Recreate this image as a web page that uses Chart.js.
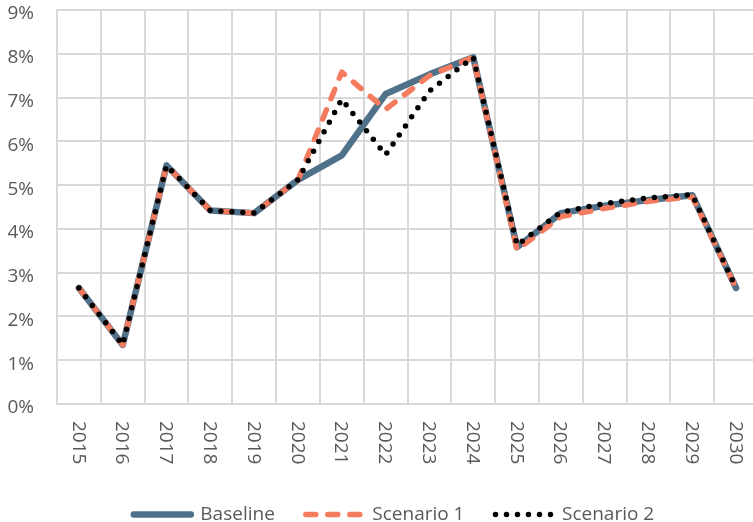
<!DOCTYPE html>
<html>
<head>
<meta charset="utf-8">
<script src="https://cdn.jsdelivr.net/npm/chart.js@4.4.1/dist/chart.umd.min.js"></script>
<style>
  html, body { margin: 0; padding: 0; background: #ffffff; overflow: hidden; width: 753px; height: 522px; }
  #wrap { position: absolute; left: 0; top: 0; width: 800px; height: 534px; }
</style>
</head>
<body>
<div id="wrap"><canvas id="c" width="800" height="534"></canvas></div>
<script>
const years = ['2015','2016','2017','2018','2019','2020','2021','2022','2023','2024','2025','2026','2027','2028','2029','2030'];
const baseline  = [2.65, 1.35, 5.45, 4.42, 4.36, 5.12, 5.68, 7.08, 7.53, 7.92, 3.58, 4.36, 4.53, 4.66, 4.77, 2.65];
const scenario1 = [2.65, 1.35, 5.45, 4.42, 4.36, 5.12, 7.58, 6.73, 7.50, 7.92, 3.52, 4.28, 4.47, 4.63, 4.73, 2.65];
const scenario2 = [2.65, 1.35, 5.45, 4.42, 4.36, 5.12, 6.96, 5.69, 7.15, 7.92, 3.63, 4.38, 4.58, 4.71, 4.78, 2.65];
const yTicks = [0, 1, 2, 3, 4, 5, 6, 7, 8, 9];

const FONT = '"Open Sans", "Noto Sans", sans-serif';
const TEXT = '#595959';
const GRID = '#d9d9d9';

const xLabelPlugin = {
  id: 'xLabelsDown',
  afterDraw(chart) {
    const sc = chart.scales.x;
    const ctx = chart.ctx;
    ctx.save();
    ctx.fillStyle = TEXT;
    ctx.font = '19px ' + FONT;
    ctx.textAlign = 'left';
    ctx.textBaseline = 'middle';
    sc.ticks.forEach((t, i) => {
      const x = sc.getPixelForTick(i);
      const y = sc.top + 17;
      ctx.save();
      ctx.translate(x - 1, y);
      ctx.rotate(Math.PI / 2);
      ctx.fillText(years[i], 0, 0);
      ctx.restore();
    });
    ctx.restore();
  }
};

const legendShift = {
  id: 'legendShift',
  afterLayout(chart) {
    const lg = chart.legend;
    if (lg) { lg.left += 12; lg.right += 12; }
  }
};

new Chart(document.getElementById('c'), {
  type: 'line',
  data: {
    labels: years,
    datasets: [
      { label: 'Baseline', data: baseline, borderColor: '#50718a', backgroundColor: '#50718a',
        borderWidth: 6.5, borderCapStyle: 'round', borderJoinStyle: 'round', pointRadius: 0, tension: 0, order: 3 },
      { label: 'Scenario 1', data: scenario1, borderColor: '#f47b5e', backgroundColor: '#f47b5e',
        borderWidth: 5.5, borderDash: [10, 12], borderCapStyle: 'round', borderJoinStyle: 'round', pointRadius: 0, tension: 0, order: 2 },
      { label: 'Scenario 2', data: scenario2, borderColor: '#000000', backgroundColor: '#000000',
        borderWidth: 5.5, borderDash: [0, 11], borderCapStyle: 'round', borderJoinStyle: 'round', pointRadius: 0, tension: 0, order: 1 }
    ]
  },
  options: {
    responsive: false,
    animation: false,
    devicePixelRatio: 1,
    layout: { padding: { left: 6, right: 42, top: 10, bottom: 0 } },
    plugins: {
      tooltip: { enabled: false },
      legend: {
        position: 'bottom',
        labels: {
          usePointStyle: true,
          pointStyle: 'line',
          pointStyleWidth: 57,
          padding: 31,
          color: TEXT,
          font: { family: FONT, size: 19 },
          sort: (a, b) => a.datasetIndex - b.datasetIndex,
          generateLabels(chart) {
            const items = Chart.defaults.plugins.legend.labels.generateLabels(chart);
            items.forEach(it => {
              const ds = chart.data.datasets[it.datasetIndex];
              it.lineDash = ds.borderDash || [];
              it.lineWidth = ds.datasetIndex === 0 ? 7 : ds.borderWidth;
              it.lineCap = 'round';
              it.strokeStyle = ds.borderColor;
              it.fillStyle = ds.borderColor;
              it.pointStyle = 'line';
            });
            return items;
          }
        }
      }
    },
    scales: {
      x: {
        type: 'category',
        offset: true,
        grid: { offset: true, color: GRID, lineWidth: 2, drawTicks: false },
        border: { color: GRID, width: 2 },
        ticks: { color: 'rgba(0,0,0,0)', font: { family: FONT, size: 19 }, minRotation: 90, maxRotation: 90, padding: 17, autoSkip: false },
        afterFit(scale) { scale.height = 70; scale.paddingLeft = 0; scale.paddingRight = 0; }
      },
      y: {
        min: 0, max: 9,
        afterBuildTicks(scale) { scale.ticks = yTicks.map(v => ({ value: v })); },
        grid: { color: GRID, lineWidth: 2, drawTicks: false },
        border: { color: GRID, width: 2 },
        ticks: {
          color: TEXT, padding: 23, labelOffset: 4,
          font: { family: FONT, size: 19, lineHeight: 1.0 },
          callback: (v) => v + '%'
        },
        afterFit(scale) { scale.width = 51; scale.paddingTop = 0; scale.paddingBottom = 0; }
      }
    }
  },
  plugins: [xLabelPlugin, legendShift]
});
</script>
</body>
</html>
